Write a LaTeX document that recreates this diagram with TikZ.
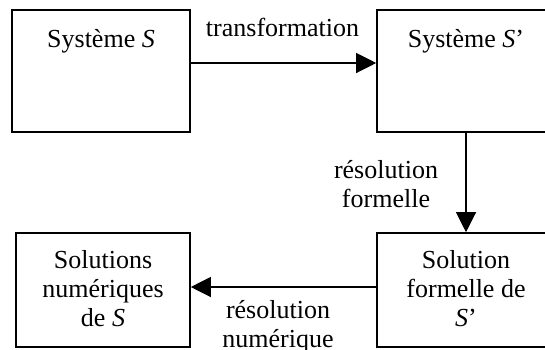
\documentclass[tikz,border=0pt]{standalone}
\usepackage{fontspec}
\setmainfont{Liberation Serif}
\usetikzlibrary{arrows.meta}
\begin{document}
\begin{tikzpicture}[x=1pt,y=-1pt,
    bloc/.style={draw,line width=1.6pt,inner sep=0pt,minimum width=178pt},
    txt/.style={font=\fontsize{26}{29}\selectfont,align=center,inner sep=0pt,anchor=base},
    fleche/.style={line width=1.2pt,-{Triangle[length=20pt,width=20pt]}}]
    \useasboundingbox (0,0) rectangle (545,349);
    \clip (0,0) rectangle (545,349);

    \node[bloc,minimum height=122pt] (sysS) at (101,71) {};
    \node[bloc,minimum height=122pt] (sysSp) at (466,71) {};
    \node[bloc,minimum height=114pt,minimum width=174pt] (solN) at (103,290) {};
    \node[bloc,minimum height=114pt] (solF) at (466,290) {};

    \node[txt] (tS) at (101,47) {Système \textit{S}};
    \node[txt] (tSp) at (466,47) {Système \textit{S}’};
    \node[txt] (tN) at (103,326) {Solutions\\numériques\\de \textit{S}};
    \node[txt] (tF) at (466,326) {Solution\\formelle de\\\textit{S}’};

    \draw[fleche] ([yshift=8pt]sysS.east) -- ([yshift=8pt]sysSp.west);
    \draw[fleche] (sysSp.south) -- (solF.north);
    \draw[fleche] ([yshift=3pt]solF.west) -- ([yshift=3pt]solN.east);

    \node[txt] (lTrans) at (282.5,36) {transformation};
    \node[txt] (lForm) at (386,207) {résolution\\formelle};
    \node[txt] (lNum) at (278,347) {résolution\\numérique};
\end{tikzpicture}
\end{document}
